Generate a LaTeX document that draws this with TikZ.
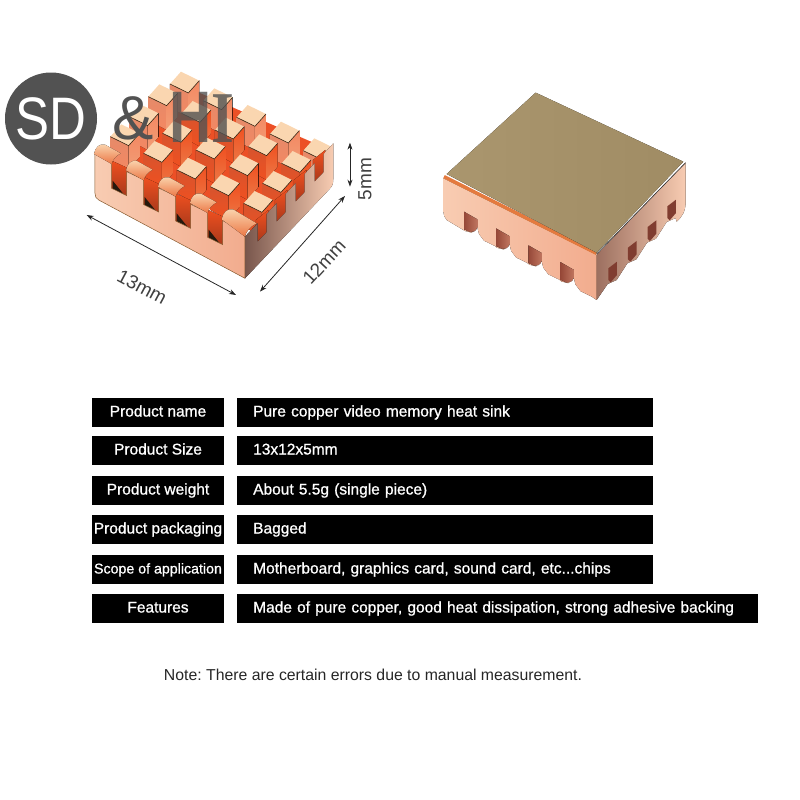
\documentclass[tikz,border=0pt]{standalone}
\usepackage{fontspec}
\usetikzlibrary{arrows.meta}
\setmainfont{Liberation Sans}
\newfontfamily\serifletter{Liberation Serif}
\newfontfamily\cellfont[FakeBold=0.9]{Liberation Sans}
\frenchspacing

\definecolor{floorred}{RGB}{236,80,38}
\definecolor{pinpeach}{RGB}{250,214,176}
\definecolor{pinfacea}{RGB}{214,84,46}
\definecolor{pinfaceb}{RGB}{240,80,32}
\definecolor{pinband}{RGB}{236,120,70}
\definecolor{copperlight}{RGB}{248,204,178}
\definecolor{coppermid}{RGB}{242,172,142}
\definecolor{copperdark}{RGB}{120,86,76}
\definecolor{edgeorange}{RGB}{228,122,62}
\definecolor{tape}{RGB}{160,140,100}
\definecolor{tapelight}{RGB}{170,150,110}
\definecolor{notchbrown}{RGB}{150,72,56}
\definecolor{logogray}{RGB}{82,82,82}

\begin{document}
\begin{tikzpicture}[x=1pt, y=-1pt,
    labelbox/.style={rectangle, fill=black, text=white, font=\cellfont\fontsize{15.5}{15.5}\selectfont,
        minimum width=132pt, minimum height=29pt, inner sep=0pt, text height=11pt, text depth=3pt},
    valuebox/.style={labelbox, anchor=west, align=left, text width=384pt, minimum width=416pt},
    dimtext/.style={font=\fontsize{19}{19}\selectfont, text=black!75},
    dimline/.style={{Stealth[length=7pt,width=5pt]}-{Stealth[length=7pt,width=5pt]}, line width=0.8pt, black!85}]
    \useasboundingbox (0,0) rectangle (800,800);

    % left heat sink, in the coordinates of a 3x crop
    \begin{scope}[shift={(0,60)}, x=0.3333pt, y=-0.3333pt]
        \fill[floorred] (320,290) -- (545,75) -- (990,270) -- (745,500) -- cycle;
        \foreach \j in {3,2,1,0} {
            \foreach \i in {4,3,2,1,0} {
                \pgfmathsetmacro{\cx}{775-100*\i+57*\j+(\j==3 ? 8 : 0)}
                \pgfmathsetmacro{\cy}{425-50*\i-60*\j+(\j==3 ? 22 : 0)}
                \pgfmathtruncatemacro{\pale}{(\j==3 || \i==4) ? 55 : 100}
                \fill[top color=pinfacea!\pale!copperlight, bottom color=pinfaceb!\pale!copperlight] (\cx-44,\cy+5) -- (\cx+11,\cy+32) -- (\cx+11,\cy+105) -- (\cx-44,\cy+75) -- cycle;
                \fill[top color=pinfaceb!\pale!copperlight, bottom color=pinband!\pale!copperlight] (\cx+11,\cy+32) -- (\cx+44,\cy-5) -- (\cx+44,\cy+65) -- (\cx+11,\cy+105) -- cycle;
                \fill[pinpeach] (\cx-44,\cy+5) -- (\cx-11,\cy-32) -- (\cx+44,\cy-5) -- (\cx+11,\cy+32) -- cycle;
                \draw[black!70!brown, line width=0.6pt] (\cx-44,\cy+5) -- (\cx+11,\cy+32) -- (\cx+44,\cy-5);
            }
        }
        % what shows through the slots
        \foreach \i in {0,1,2,3} {
            \fill[shift={(96*\i,49*\i)}, top color=pinfaceb, bottom color=floorred!70!black] (330,300) -- (385,325) -- (385,412) -- (330,390) -- cycle;
            \fill[shift={(96*\i,49*\i)}, black!80!brown] (338,362) -- (338,388) -- (372,404) -- cycle;
        }
        \foreach \j in {0,1,2,3} {
            \fill[shift={(57*\j,-60*\j)}, top color=pinfaceb, bottom color=floorred!70!black] (768,480) -- (805,450) -- (805,520) -- (768,550) -- cycle;
        }
        % side with its slots
        \fill[left color=copperdark, right color=copperlight] (735,655) -- (988,388) .. controls (998,378) and (1000,370) .. (1000,355) -- (1000,250)
            \foreach \j in {3,2,1,0} {
                -- (800+57*\j,462-60*\j) -- (800+57*\j,517-60*\j) -- (773+57*\j,545-60*\j) -- (773+57*\j,490-60*\j)
            } -- (735,530) -- cycle;
        % front with its slots
        \path[left color=copperlight, right color=coppermid, draw=brown!70!black, line width=0.5pt] (735,655) -- (296,420) .. controls (288,415) and (285,410) .. (285,400) -- (285,280)
            \foreach \i in {0,1,2,3} {
                -- (335+96*\i,310+49*\i) -- (335+96*\i,385+49*\i) -- (380+96*\i,407+49*\i) -- (380+96*\i,335+49*\i)
            } -- (719,506) -- (735,530) -- cycle;
        % rounded tops of the front teeth
        \foreach \i in {0,1,2,3} {
            \fill[shift={(96*\i,49*\i)}, top color=pinpeach, bottom color=pinband] (282,282) .. controls (286,262) and (298,250) .. (315,254) -- (362,280) .. controls (348,288) and (338,298) .. (335,312) -- cycle;
        }
        \fill[top color=pinpeach, bottom color=pinband] (665,478) .. controls (669,458) and (682,444) .. (699,448) -- (770,490) .. controls (750,500) and (738,515) .. (735,530) -- cycle;
        \coordinate (lengthA) at (260,465);
        \coordinate (lengthB) at (708,705);
        \coordinate (widthA) at (780,695);
        \coordinate (widthB) at (1035,408);
        \coordinate (heightA) at (1050,248);
        \coordinate (heightB) at (1050,380);
    \end{scope}

    \draw[dimline] (lengthA) -- (lengthB);
    \draw[dimline] (widthA) -- (widthB);
    \draw[dimline] (heightA) -- (heightB);
    \node[dimtext, rotate=-28] (lengthText) at (142,287) {13mm};
    \node[dimtext, rotate=47] (widthText) at (324,262) {12mm};
    \node[dimtext, rotate=90] (heightText) at (365,179) {5mm};

    % right heat sink, backing up
    \begin{scope}[shift={(420,80)}, x=0.3333pt, y=-0.3333pt]
        \fill[left color=copperdark!70!coppermid, right color=copperlight] (530,525) -- (797,248) -- (797,365) .. controls (797,395) and (785,412) .. (770,425)
            \foreach \j in {3,2,1,0} {
                -- (590+59*\j,600-62*\j) -- (563+59*\j,612-62*\j)
            } -- (530,660) -- cycle;
        \foreach \j in {0,1,2,3} {
            \fill[shift={(59*\j,-62*\j)}, notchbrown!85!black] (565,565) -- (591,545) -- (591,585) -- (572,607) -- (565,600) -- cycle;
        }
        \fill[left color=copperlight, right color=coppermid] (70,295) -- (530,525) -- (530,660)
            \foreach \i in {3,2,1,0} {
                -- (225+96.5*\i,498+50.5*\i) -- (192+96.5*\i,482+50.5*\i) -- (177+96.5*\i,462+50.5*\i) -- (172+96.5*\i,442+50.5*\i) -- (155+96.5*\i,458+50.5*\i) -- (135+96.5*\i,453+50.5*\i)
            } -- (80,420) .. controls (74,412) and (70,405) .. (70,395) -- cycle;
        \foreach \i in {0,1,2,3} {
            \fill[shift={(96.5*\i,50.5*\i)}, left color=notchbrown, right color=notchbrown!55!coppermid] (132,395) -- (172,418) -- (172,442) .. controls (168,454) and (158,458) .. (150,456) -- (132,448) -- cycle;
        }
        \draw[edgeorange, line width=3.5pt] (72,290) -- (530,520);
        \fill[left color=tapelight, right color=tape] (80,282) -- (347,38) -- (790,245) -- (530,518) -- cycle;
        \draw[black!80, line width=0.6pt] (530,522) -- (797,248);
    \end{scope}

    % table
    \node[labelbox] (nameLabel) at (158,412.5) {Product name};
    \node[labelbox] (sizeLabel) at (158,450.5) {Product Size};
    \node[labelbox] (weightLabel) at (158,490.5) {Product weight};
    \node[labelbox] (packLabel) at (158,529.5) {Product packaging};
    \node[labelbox, font=\cellfont\fontsize{14.2}{14.2}\selectfont] (scopeLabel) at (158,569.5) {Scope of application};
    \node[labelbox] (featureLabel) at (158,608.5) {Features};
    \node[valuebox] (nameValue) at (237,412.5) {Pure copper video memory heat sink};
    \node[valuebox] (sizeValue) at (237,450.5) {13x12x5mm};
    \node[valuebox] (weightValue) at (237,490.5) {About 5.5g (single piece)};
    \node[valuebox] (packValue) at (237,529.5) {Bagged};
    \node[valuebox] (scopeValue) at (237,569.5) {Motherboard, graphics card, sound card, etc...chips};
    \node[valuebox, text width=489pt, minimum width=521pt] (featureValue) at (237,608.5) {Made of pure copper, good heat dissipation, strong adhesive backing};
    \node[font=\fontsize{15.8}{15.8}\selectfont, text=black!85] (noteText) at (373,675) {Note: There are certain errors due to manual measurement.};

    % logo
    \node[circle, fill=logogray, minimum size=92pt, inner sep=0pt] (logoMark) at (51,118.5) {};
    \node[text=white, xscale=0.85, font=\fontsize{60}{60}\selectfont] (logoLetters) at (logoMark) {SD};
    \node[text=logogray, font=\fontsize{62}{62}\selectfont] (logoAnd) at (133,118) {\&};
    \node[text=logogray, text opacity=0.8, xscale=0.8, font=\bfseries\fontsize{73}{73}\selectfont] (logoName) at (202,117) {H\serifletter\bfseries I};
\end{tikzpicture}
\end{document}
